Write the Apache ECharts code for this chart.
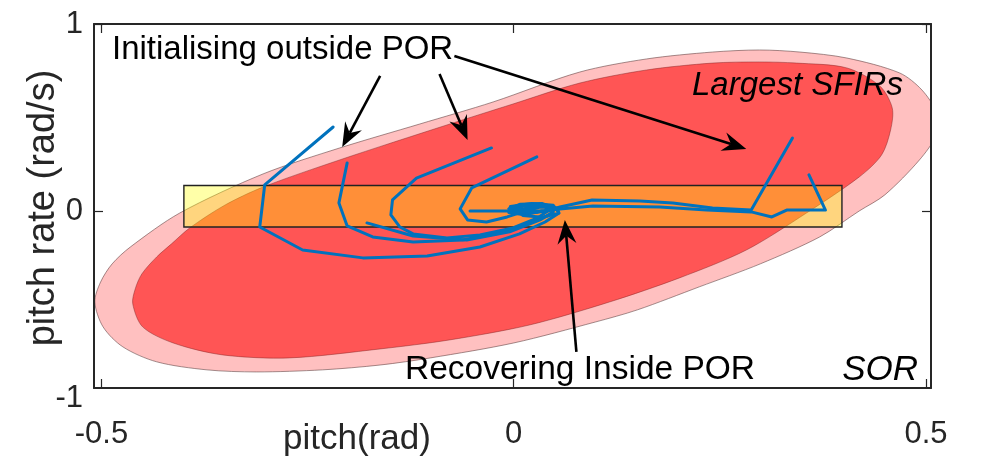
<!DOCTYPE html>
<html><head><meta charset="utf-8">
<script src="https://cdn.jsdelivr.net/npm/echarts@6/dist/echarts.min.js"></script>
<style>html,body{margin:0;padding:0;background:#fff}#c{width:996px;height:471px}</style>
</head><body><div id="c"></div>
<script>
// ---- data ----
const xTicks = [-0.5, 0, 0.5];
const yTickLabels = [-1, 0, 1];
const xRange = [-0.509, 0.506];
const yRange = [-0.947, 1];

// SOR (outer, light pink) boundary
const sorBoundary = [
  [-0.508,-0.487],[-0.501,-0.380],[-0.487,-0.283],[-0.465,-0.193],[-0.405,-0.011],
  [-0.304,0.198],[-0.211,0.337],[-0.114,0.465],[-0.025,0.583],[0.080,0.743],
  [0.161,0.813],[0.241,0.850],[0.298,0.861],[0.347,0.850],[0.404,0.818],
  [0.468,0.738],[0.495,0.647],[0.512,0.529],[0.512,0.406],[0.492,0.273],
  [0.450,0.086],[0.419,0.000],[0.371,-0.139],[0.299,-0.283],[0.225,-0.406],
  [0.150,-0.529],[0.099,-0.594],[0.000,-0.706],[-0.101,-0.786],[-0.162,-0.824],
  [-0.232,-0.850],[-0.312,-0.861],[-0.372,-0.850],[-0.433,-0.807],[-0.474,-0.727],
  [-0.498,-0.620]
];
// Largest SFIRs (inner, red) boundary
const sfirBoundary = [
  [-0.462,-0.497],[-0.459,-0.417],[-0.451,-0.337],[-0.433,-0.246],[-0.415,-0.176],
  [-0.393,-0.091],[-0.350,0.032],[-0.304,0.128],[-0.211,0.273],[-0.081,0.460],
  [-0.001,0.572],[0.080,0.684],[0.161,0.754],[0.241,0.791],[0.298,0.797],
  [0.343,0.791],[0.404,0.765],[0.444,0.668],[0.459,0.551],[0.457,0.433],
  [0.446,0.299],[0.419,0.182],[0.355,-0.011],[0.282,-0.209],[0.201,-0.358],
  [0.116,-0.487],[0.019,-0.610],[-0.078,-0.690],[-0.162,-0.738],[-0.272,-0.786],
  [-0.353,-0.770],[-0.413,-0.706],[-0.450,-0.620]
];
// POR box [xmin, ymin], [xmax, ymax]
const porBox = [[-0.400,-0.086],[0.398,0.136]];

// trajectories
const traj1 = [[-0.219,0.449],[-0.302,0.139],[-0.308,-0.086],[-0.256,-0.209],[-0.183,-0.251],[-0.105,-0.241],[-0.041,-0.193],[0.007,-0.123],[0.038,-0.059],[0.055,-0.011],[0.048,0.030],[0.022,0.040],[-0.004,0.024],[-0.006,-0.008],[0.013,-0.020],[0.034,0.000]];
const traj2 = [[-0.202,0.257],[-0.212,0.043],[-0.202,-0.080],[-0.171,-0.139],[-0.122,-0.166],[-0.062,-0.155],[-0.017,-0.118],[0.019,-0.064],[0.044,-0.021],[0.050,0.016],[0.034,0.040],[0.008,0.036],[-0.006,0.011],[0.005,-0.014],[0.029,-0.005]];
const traj3 = [[-0.027,0.337],[-0.118,0.176],[-0.147,0.059],[-0.149,-0.021],[-0.138,-0.086],[-0.122,-0.123],[-0.081,-0.144],[-0.041,-0.128],[-0.001,-0.091],[0.029,-0.037],[0.043,0.005],[0.034,0.034],[0.008,0.030],[-0.002,0.005],[0.019,-0.008]];
const traj4 = [[0.028,0.289],[-0.051,0.123],[-0.065,0.011],[-0.056,-0.048],[-0.033,-0.059],[-0.008,-0.032],[0.011,-0.005],[0.032,0.021],[0.054,0.016],[0.054,-0.013],[0.035,-0.034],[0.011,-0.024],[0.004,0.005],[0.025,0.023]];
const traj5 = [[0.338,0.390],[0.288,0.005],[0.241,0.016],[0.193,0.043],[0.153,0.053],[0.095,0.059],[0.056,0.021],[0.041,0.000],[0.019,-0.011]];
const traj6 = [[0.358,0.193],[0.378,0.005],[0.331,0.005],[0.313,-0.032],[0.288,-0.005],[0.234,0.005],[0.177,0.021],[0.096,0.027],[0.056,0.011],[0.032,0.000],[-0.011,0.000],[-0.053,0.000]];
const traj7 = [[-0.178,-0.064],[-0.122,-0.134],[-0.057,-0.155],[-0.005,-0.112],[0.032,-0.048],[0.048,-0.005],[0.040,0.029],[0.013,0.029],[0.000,0.000]];
const trajectories = [traj1, traj2, traj3, traj4, traj5, traj6, traj7];

// annotation arrows [x0, y0, x1(tip), y1(tip)]
const arrowSegments = [
  [-0.162,0.722,-0.208,0.342],
  [-0.090,0.733,-0.056,0.380],
  [-0.072,0.829,0.282,0.332],
  [0.076,-0.754,0.062,-0.048]
];

// ---- chart ----
const FONT = '"Liberation Sans", Arial, Helvetica, sans-serif';
const AX = '#262626';
const chart = echarts.init(document.getElementById('c'), null, {renderer:'canvas'});

function polySeries(name, pts, fill, stroke, z) {
  return {
    type:'custom', name, coordinateSystem:'cartesian2d', xAxisIndex:0, yAxisIndex:0,
    z, silent:true, data:[[0,0]],
    renderItem:(params, api) => ({
      type:'group',
      clipPath:{type:'rect', shape:{x:params.coordSys.x, y:params.coordSys.y, width:params.coordSys.width, height:params.coordSys.height}},
      children:[{
        type:'polygon',
        shape:{points: pts.map(p => api.coord(p)), smooth:0.3},
        style:{fill, stroke, lineWidth:0.8}
      }]
    })
  };
}

const series = [
  polySeries('SOR', sorBoundary, '#FFC0C0', 'rgba(90,60,60,0.7)', 1),
  polySeries('Largest SFIRs', sfirBoundary, '#FF5555', 'rgba(120,30,30,0.55)', 2),
  {
    type:'custom', name:'POR', coordinateSystem:'cartesian2d', z:3, silent:true, data:[[0,0]],
    renderItem:(params, api) => {
      const a = api.coord(porBox[0]), b = api.coord(porBox[1]);
      return {type:'rect', shape:{x:a[0], y:b[1], width:b[0]-a[0], height:a[1]-b[1]},
        style:{fill:'rgba(255,255,0,0.34)', stroke:'#222', lineWidth:1.4}};
    }
  }
];
trajectories.forEach((t, i) => series.push({
  type:'line', name:'traj'+(i+1), data:t, showSymbol:false, symbol:'none', z:4, silent:true,
  lineStyle:{color:'#0072BD', width:3, join:'round', cap:'round'}
}));
series.push({
  type:'custom', name:'arrows', coordinateSystem:'cartesian2d', z:5, silent:true, data:[[0,0]],
  renderItem:(params, api) => {
    const children = [];
    arrowSegments.forEach(s => {
      const p0 = api.coord([s[0], s[1]]), p1 = api.coord([s[2], s[3]]);
      const dx = p1[0]-p0[0], dy = p1[1]-p0[1], len = Math.hypot(dx, dy);
      const ux = dx/len, uy = dy/len, nx = -uy, ny = ux;
      const L = 24, W = 9.5, N = 16;
      const notch = [p1[0]-N*ux, p1[1]-N*uy];
      children.push({type:'line', shape:{x1:p0[0], y1:p0[1], x2:notch[0], y2:notch[1]}, style:{stroke:'#000', lineWidth:2.6}});
      children.push({type:'polygon', shape:{points:[
        p1, [p1[0]-L*ux+W*nx, p1[1]-L*uy+W*ny], notch, [p1[0]-L*ux-W*nx, p1[1]-L*uy-W*ny]
      ]}, style:{fill:'#000'}});
    });
    return {type:'group', children};
  }
});

const tickLabelStyle = {color:AX, fontSize:31, fontFamily:FONT};
const option = {
  animation:false,
  backgroundColor:'#fff',
  grid:[
    {left:94, right:65, top:24, bottom:83, containLabel:false},
    {left:94, right:65, top:24, bottom:73, containLabel:false, show:false}
  ],
  xAxis:[
    {type:'value', gridIndex:0, min:xRange[0], max:xRange[1], position:'bottom', z:10,
     axisLine:{show:true, onZero:false, lineStyle:{color:AX, width:2}},
     axisTick:{show:true, inside:true, length:9, customValues:xTicks, lineStyle:{color:AX, width:1.2}},
     axisLabel:{show:true, customValues:xTicks, margin:31, formatter:v=>String(v), ...tickLabelStyle},
     splitLine:{show:false}},
    {type:'value', gridIndex:0, min:xRange[0], max:xRange[1], position:'top', z:10,
     axisLine:{show:true, onZero:false, lineStyle:{color:AX, width:2}},
     axisTick:{show:true, inside:true, length:9, customValues:xTicks, lineStyle:{color:AX, width:1.2}},
     axisLabel:{show:false}, splitLine:{show:false}},
    {type:'value', gridIndex:1, min:xRange[0], max:xRange[1], show:false}
  ],
  yAxis:[
    {type:'value', gridIndex:0, min:yRange[0], max:yRange[1], position:'left', z:10,
     axisLine:{show:true, onZero:false, lineStyle:{color:AX, width:2}},
     axisTick:{show:true, inside:true, length:9, customValues:[0, 1], lineStyle:{color:AX, width:1.2}},
     axisLabel:{show:false}, splitLine:{show:false}},
    {type:'value', gridIndex:0, min:yRange[0], max:yRange[1], position:'right', z:10,
     axisLine:{show:true, onZero:false, lineStyle:{color:AX, width:2}},
     axisTick:{show:true, inside:true, length:9, customValues:[0, 1], lineStyle:{color:AX, width:1.2}},
     axisLabel:{show:false}, splitLine:{show:false}},
    {type:'value', gridIndex:1, min:-1, max:1, position:'left',
     axisLine:{show:false}, axisTick:{show:false}, splitLine:{show:false},
     axisLabel:{show:true, customValues:yTickLabels, margin:11, formatter:v=>String(v), ...tickLabelStyle}}
  ],
  series,
  graphic:[
    {type:'text', x:357, y:439, z:20, style:{text:'pitch(rad)', font:'35px '+FONT, fill:AX, align:'center', verticalAlign:'middle'}},
    {type:'text', x:44, y:208, rotation:Math.PI/2, z:20, style:{text:'pitch rate (rad/s)', font:'38px '+FONT, fill:AX, align:'center', verticalAlign:'middle'}},
    {type:'text', x:112, y:50, z:20, style:{text:'Initialising outside POR', font:'33px '+FONT, fill:'#000', align:'left', verticalAlign:'middle'}},
    {type:'text', x:692, y:86, z:20, style:{text:'Largest SFIRs', font:'italic 33px '+FONT, fill:'#000', align:'left', verticalAlign:'middle'}},
    {type:'text', x:405, y:370, z:20, style:{text:'Recovering Inside POR', font:'33.5px '+FONT, fill:'#000', align:'left', verticalAlign:'middle'}},
    {type:'text', x:918, y:370, z:20, style:{text:'SOR', font:'italic 35px '+FONT, fill:'#000', align:'right', verticalAlign:'middle'}}
  ]
};
chart.setOption(option);
</script>
</body></html>
